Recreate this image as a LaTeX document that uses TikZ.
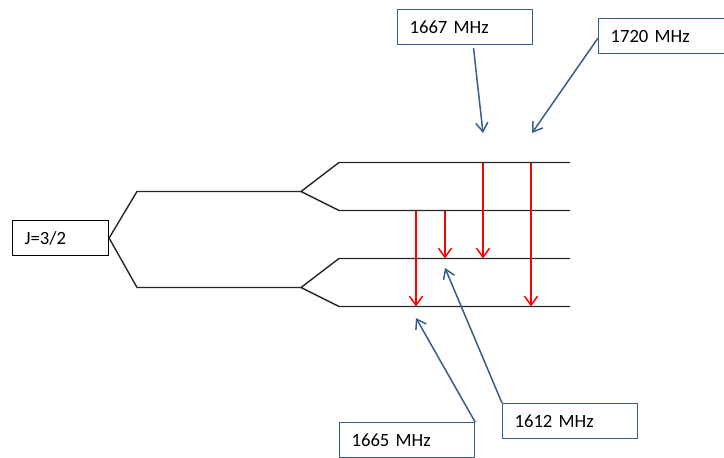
\documentclass[tikz,border=0pt]{standalone}
\usepackage{fontspec}
\setmainfont{Carlito}
\usetikzlibrary{arrows.meta}
\definecolor{callblue}{RGB}{56,93,138}
\tikzset{
  lbox/.style={draw=black, line width=1.1pt, rectangle, anchor=north west, inner xsep=12pt, inner ysep=0pt, align=left, minimum height=35pt, font=\fontsize{18.7}{22}\selectfont},
  mhzbox/.style={lbox, draw=callblue, text width=111pt},
  level/.style={line width=1.4pt, black!85},
  trans/.style={red, line width=1.5pt, -{Straight Barb[length=9pt,width=13pt]}},
  callout/.style={callblue, line width=1.5pt, -{Straight Barb[length=9pt,width=12pt]}}
}
\begin{document}
\begin{tikzpicture}[x=1pt,y=-1pt]
\useasboundingbox (0,0) rectangle (724,458);
% J box
\node[lbox, text width=72pt] (J) at (12,220) {J=3/2};
% branch coordinates
\coordinate (ua) at (137,191.5);
\coordinate (ub) at (301,191.5);
\coordinate (la) at (137,287.5);
\coordinate (lb) at (301,287.5);
\coordinate (L1a) at (339,162.5);
\coordinate (L1b) at (570,162.5);
\coordinate (L2a) at (339,210.5);
\coordinate (L2b) at (570,210.5);
\coordinate (L3a) at (339,258.5);
\coordinate (L3b) at (570,258.5);
\coordinate (L4a) at (339,306.5);
\coordinate (L4b) at (570,306.5);
\draw[level] (L1b) -- (L1a) -- (ub) -- (L2a) -- (L2b);
\draw[level] (ub) -- (ua) -- (J.east) -- (la) -- (lb);
\draw[level] (L3b) -- (L3a) -- (lb) -- (L4a) -- (L4b);
% transitions
\draw[trans] (L2a -| 416,0) -- (L4a -| 416,0);
\draw[trans] (L2a -| 445,0) -- (L3a -| 445,0);
\draw[trans] (L1a -| 483,0) -- (L3a -| 483,0);
\draw[trans] (L1a -| 531,0) -- (L4a -| 531,0);
% callout boxes
\node[mhzbox] (b1667) at (397,9) {1667 MHz};
\node[mhzbox] (b1720) at (598,18) {1720 MHz};
\node[mhzbox] (b1612) at (502,403) {1612 MHz};
\node[mhzbox] (b1665) at (339,422) {1665 MHz};
\coordinate (t1667) at (483,133);
\coordinate (t1720) at (532,133);
\coordinate (t1612) at (445,268);
\coordinate (t1665) at (416,318);
\draw[callout] ([xshift=8.5pt,yshift=-3pt]b1667.south) -- (t1667);
\draw[callout] ([yshift=-2pt]b1720.west) -- (t1720);
\draw[callout] (b1612.north west) -- (t1612);
\draw[callout] (b1665.north east) -- (t1665);
\end{tikzpicture}
\end{document}
